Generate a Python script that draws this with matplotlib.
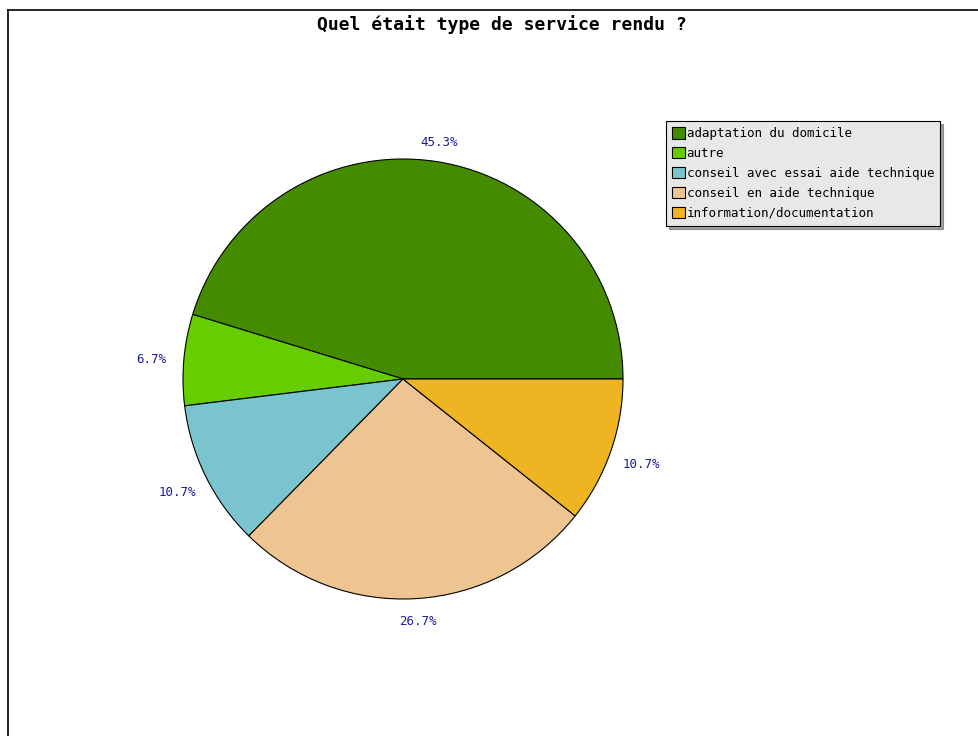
import matplotlib
matplotlib.use("Agg")
import matplotlib.pyplot as plt
import matplotlib.patches as mpatches
import numpy as np

# service types and their share (%)
categories = ["adaptation du domicile", "autre",
              "conseil avec essai aide technique",
              "conseil en aide technique", "information/documentation"]
shares = [45.3, 6.7, 10.7, 26.7, 10.7]
colors = ["#458b00", "#66cd00", "#7ac5cd", "#eec591", "#eeb422"]

W, H = 979, 736
cx, cy, R = 403, 379, 220  # pie centre and radius in pixels

fig = plt.figure(figsize=(W / 100, H / 100), dpi=100)
fig.patch.set_facecolor("white")

# frame lines along top and left edge
fig.add_artist(plt.Line2D([8 / W, 1], [1 - 10 / H, 1 - 10 / H],
                          transform=fig.transFigure, color="black", lw=1.2))
fig.add_artist(plt.Line2D([8 / W, 8 / W], [0, 1 - 10 / H],
                          transform=fig.transFigure, color="black", lw=1.2))

fig.text(502 / W, 1 - 25 / H, "Quel était type de service rendu ?",
         ha="center", va="center", family="DejaVu Sans Mono",
         fontsize=13, fontweight="bold")

ax = fig.add_axes([(cx - R) / W, (H - cy - R) / H, 2 * R / W, 2 * R / H])

wedges, _ = ax.pie(shares, colors=colors, startangle=0, counterclock=True,
                   radius=1, center=(0, 0), normalize=True,
                   wedgeprops=dict(edgecolor="black", linewidth=0.8))
ax.set_xlim(-1, 1)
ax.set_ylim(-1, 1)
ax.set_aspect("auto")
ax.axis("off")

# percentage labels just outside the rim, nudged a bit downwards
for w, s in zip(wedges, shares):
    th = np.deg2rad((w.theta1 + w.theta2) / 2)
    r = 1.09 + 0.06 * abs(np.cos(th))
    ax.text(r * np.cos(th), r * np.sin(th) - 0.012, f"{s:.1f}%",
            ha="center", va="center", color="#1a1a99",
            family="DejaVu Sans Mono", fontsize=9, clip_on=False)

handles = [mpatches.Patch(facecolor=c, edgecolor="black", linewidth=0.8)
           for c in colors]
leg = fig.legend(handles, categories, loc="upper left",
                 bbox_to_anchor=(666 / W, 1 - 121 / H),
                 prop=dict(family="DejaVu Sans Mono", size=9),
                 frameon=True, fancybox=False, shadow=True,
                 handlelength=1.0, handleheight=1.0, handletextpad=0.15,
                 labelspacing=0.55, borderpad=0.5, borderaxespad=0)
leg.get_frame().set_facecolor("#e8e8e8")
leg.get_frame().set_edgecolor("black")
leg.get_frame().set_linewidth(0.8)

fig.savefig("out.png", dpi=100)
